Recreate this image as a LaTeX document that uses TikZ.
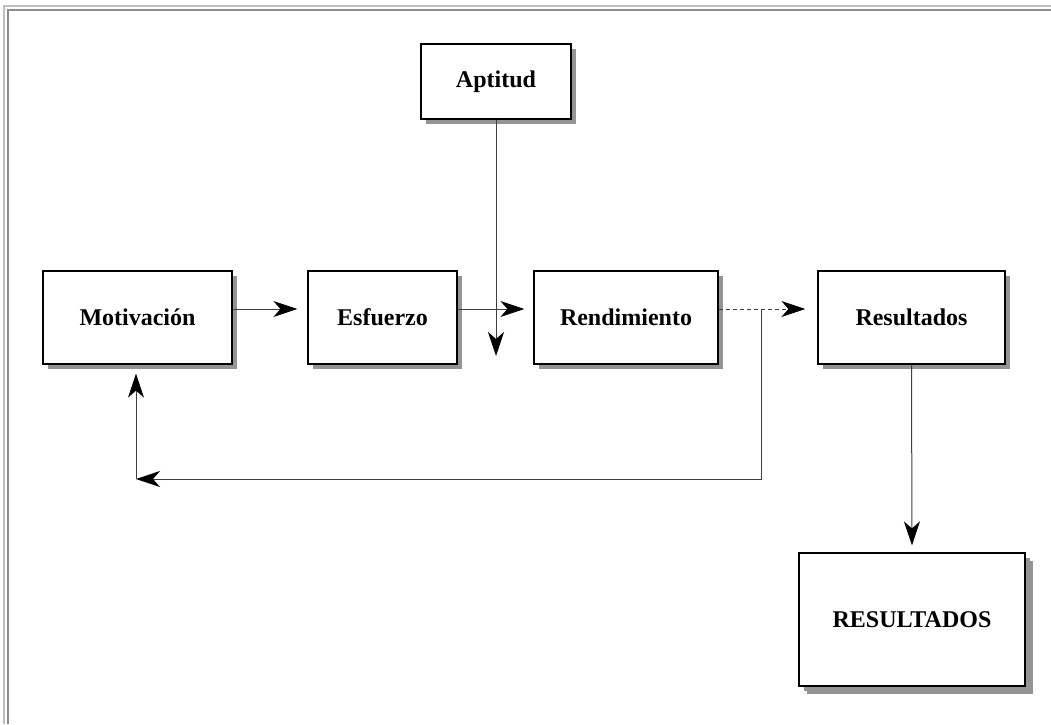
\documentclass[tikz,border=0pt]{standalone}
\usepackage{fontspec}
\setmainfont{Liberation Serif}
\usetikzlibrary{arrows.meta,shadows}
\tikzset{ebox/.style={draw,line width=1.2pt,fill=white,minimum height=93pt,font=\fontsize{24}{28}\selectfont\bfseries,
    drop shadow={shadow xshift=5pt,shadow yshift=-5pt,fill=black!42,opacity=1}}}
\tikzset{eflow/.style={draw,black!75,line width=1pt,-{Stealth[length=24pt,width=16pt,inset=7pt,black]}}}
\tikzset{eframe/.style={line width=1.5pt}}

\begin{document}
\begin{tikzpicture}[x=1pt,y=-1pt]
  \useasboundingbox (0,0) rectangle (1051,724);
  \draw[eframe,black!25] (4,724) -- (4,6) -- (1051,6);
  \draw[eframe,black!45] (8,724) -- (8,10) -- (1051,10);

  \node[ebox,minimum width=189pt] (mot) at (137.5,317.5) {Motivación};
  \node[ebox,minimum width=149pt] (esf) at (382.5,317.5) {Esfuerzo};
  \node[ebox,minimum width=184pt] (ren) at (626,317.5) {Rendimiento};
  \node[ebox,minimum width=187pt] (res) at (911.5,317.5) {Resultados};
  \node[ebox,minimum width=150pt,minimum height=75pt] (apt) at (496,81.5) {Aptitud};
  \node[ebox,minimum width=226pt,minimum height=133pt,
    drop shadow={shadow xshift=8pt,shadow yshift=-8pt,fill=black!42,opacity=1}] (resb) at (912,619.5) {RESULTADOS};

  \coordinate (aptend) at (496,356);
  \coordinate (fb) at (761,309);
  \coordinate (fbc) at (136,479);

  \draw[eflow] ([yshift=8.5pt]mot.east) -- ([xshift=-10pt,yshift=8.5pt]esf.west);
  \draw[eflow] ([yshift=8.5pt]esf.east) -- ([xshift=-9pt,yshift=8.5pt]ren.west);
  \draw[eflow] (apt.south) -- (aptend);
  \draw[eflow,dash pattern=on 4pt off 3pt] ([yshift=8.5pt]ren.east) -- ([xshift=-12pt,yshift=8.5pt]res.west);
  \draw[eflow] (fb) |- (fbc);
  \draw[eflow,shorten >=9pt] (fbc) -- (fbc |- mot.south);
  \draw[eflow,shorten >=7pt] (res.south) -- (resb.north);
\end{tikzpicture}
\end{document}
